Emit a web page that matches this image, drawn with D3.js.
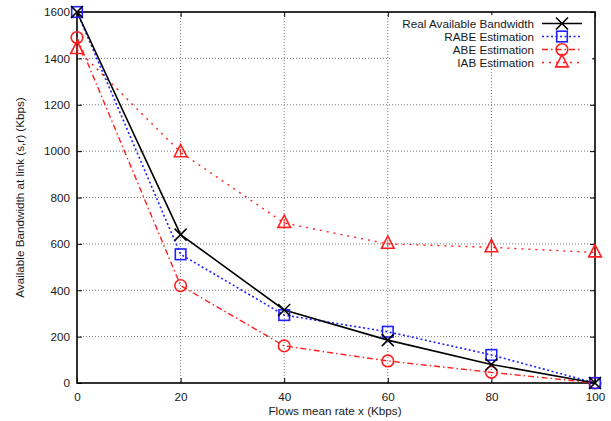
<!DOCTYPE html>
<html>
<head>
<meta charset="utf-8">
<script src="https://cdn.jsdelivr.net/npm/d3@7/dist/d3.min.js"></script>
<style>
  html, body { margin: 0; padding: 0; background: #fff; }
  svg { display: block; font-family: "Liberation Sans", Arial, Helvetica, sans-serif; }
</style>
</head>
<body>
<svg id="chart" width="611" height="421"></svg>
<script>
// Flow mean rates (Kbps)
const rates = [0, 20, 40, 60, 80, 100];

// Available bandwidth at link (s,r), Kbps
const realBw   = [1600, 640, 315, 185, 80, 0];
const rabeEst  = [1600, 555, 293, 221, 121, 0];
const abeEst   = [1490, 420, 160, 95, 46, 0];
const iabEst   = [1440, 995, 690, 600, 585, 563];
const iabErr   = [20, 15, 15, 10, 40, 25];

const xTicks = [0, 20, 40, 60, 80, 100];
const yTicks = [0, 200, 400, 600, 800, 1000, 1200, 1400, 1600];

const seriesNames = ["Real Available Bandwidth", "RABE Estimation", "ABE Estimation", "IAB Estimation"];

const FS = 11.7;
const svg = d3.select("#chart");
const m = { left: 77, right: 595, top: 12, bottom: 383 };

const x = d3.scaleLinear().domain([0, 100]).range([m.left, m.right]);
const y = d3.scaleLinear().domain([0, 1600]).range([m.bottom, m.top]);

// grid
const grid = svg.append("g").attr("stroke", "#777").attr("stroke-width", 1).attr("stroke-dasharray", "1,2");
xTicks.slice(1, -1).forEach(t => {
  grid.append("line").attr("x1", x(t)).attr("x2", x(t)).attr("y1", m.top).attr("y2", m.bottom);
});
yTicks.slice(1, -1).forEach(t => {
  grid.append("line").attr("x1", m.left).attr("x2", m.right).attr("y1", y(t)).attr("y2", y(t));
});

// axes with inward ticks, mirrored on top and right
const axB = svg.append("g").attr("transform", `translate(0,${m.bottom})`)
  .call(d3.axisBottom(x).tickValues(xTicks).tickSize(-5).tickPadding(10).tickFormat(d3.format("d")));
const axT = svg.append("g").attr("transform", `translate(0,${m.top})`)
  .call(d3.axisTop(x).tickValues(xTicks).tickSize(-5).tickFormat(""));
const axL = svg.append("g").attr("transform", `translate(${m.left},0)`)
  .call(d3.axisLeft(y).tickValues(yTicks).tickSize(-5).tickPadding(7).tickFormat(d3.format("d")));
const axR = svg.append("g").attr("transform", `translate(${m.right},0)`)
  .call(d3.axisRight(y).tickValues(yTicks).tickSize(-5).tickFormat(""));
[axB, axT, axL, axR].forEach(a => {
  a.select(".domain").remove();
  a.selectAll(".tick line").attr("stroke", "#000").attr("stroke-width", 1);
  a.selectAll("text").attr("font-size", FS).attr("fill", "#1a1a1a")
    .attr("font-family", "'Liberation Sans', Arial, sans-serif");
});

// border
svg.append("rect").attr("x", m.left).attr("y", m.top)
  .attr("width", m.right - m.left).attr("height", m.bottom - m.top)
  .attr("fill", "none").attr("stroke", "#000").attr("stroke-width", 1.6);

// axis titles
svg.append("text").attr("x", (m.left + m.right) / 2 - 1).attr("y", 415)
  .attr("text-anchor", "middle").attr("font-size", FS).attr("fill", "#1a1a1a")
  .text("Flows mean rate x (Kbps)");
svg.append("text").attr("transform", `translate(24,${(m.top + m.bottom) / 2}) rotate(-90)`)
  .attr("text-anchor", "middle").attr("font-size", FS).attr("fill", "#1a1a1a")
  .text("Available Bandwidth at link (s,r) (Kbps)");

// marker drawers
function drawMarker(g, type, cx, cy, color) {
  if (type === "x") {
    const s = 6;
    g.append("path").attr("d", `M${cx - s},${cy - s}L${cx + s},${cy + s}M${cx - s},${cy + s}L${cx + s},${cy - s}`)
      .attr("stroke", color).attr("stroke-width", 1.6).attr("fill", "none");
  } else if (type === "square") {
    const s = 5.3;
    g.append("rect").attr("x", cx - s).attr("y", cy - s).attr("width", 2 * s).attr("height", 2 * s)
      .attr("stroke", color).attr("stroke-width", 1.6).attr("fill", "none");
  } else if (type === "circle") {
    g.append("circle").attr("cx", cx).attr("cy", cy).attr("r", 5.8)
      .attr("stroke", color).attr("stroke-width", 1.6).attr("fill", "none");
  } else if (type === "triangle") {
    const s = 6.3;
    g.append("path").attr("d", `M${cx},${cy - 1.25 * s}L${cx + s},${cy + 0.7 * s}L${cx - s},${cy + 0.7 * s}Z`)
      .attr("stroke", color).attr("stroke-width", 1.6).attr("fill", "none");
  }
}

const series = [
  { name: seriesNames[0], values: realBw,  color: "#000000", dash: null,          width: 1.6, marker: "x" },
  { name: seriesNames[1], values: rabeEst, color: "#1f1fff", dash: "2,2.5",       width: 1.6, marker: "square" },
  { name: seriesNames[2], values: abeEst,  color: "#ff1f1f", dash: "6,3,1.5,3",   width: 1.4, marker: "circle" },
  { name: seriesNames[3], values: iabEst,  color: "#ff1f1f", dash: "2,5",         width: 1.4, marker: "triangle" }
];

const line = d3.line().x(d => x(d[0])).y(d => y(d[1]));

// draw lines (in reverse so the reference line sits on top)
series.slice().reverse().forEach(s => {
  const pts = rates.map((r, i) => [r, s.values[i]]);
  svg.append("path").attr("d", line(pts)).attr("fill", "none")
    .attr("stroke", s.color).attr("stroke-width", s.width)
    .attr("stroke-dasharray", s.dash);
});

// error bars on IAB estimation
const eb = svg.append("g").attr("stroke", "#ff1f1f").attr("stroke-width", 1);
rates.forEach((r, i) => {
  eb.append("line").attr("x1", x(r)).attr("x2", x(r))
    .attr("y1", y(iabEst[i] + iabErr[i])).attr("y2", y(iabEst[i] - iabErr[i]));
});

// markers
series.slice().reverse().forEach(s => {
  const g = svg.append("g");
  rates.forEach((r, i) => drawMarker(g, s.marker, x(r), y(s.values[i]), s.color));
});

// legend
const lg = svg.append("g");
lg.append("rect").attr("x", 392).attr("y", 15).attr("width", 200).attr("height", 54).attr("fill", "#fff");
series.forEach((s, i) => {
  const yy = 23.5 + i * 13;
  lg.append("text").attr("x", 534).attr("y", yy + 4).attr("text-anchor", "end")
    .attr("font-size", FS).attr("fill", "#1a1a1a").text(s.name);
  lg.append("line").attr("x1", 542).attr("x2", 582).attr("y1", yy).attr("y2", yy)
    .attr("stroke", s.color).attr("stroke-width", s.width).attr("stroke-dasharray", s.dash);
  drawMarker(lg, s.marker, 562, yy, s.color);
});
</script>
</body>
</html>
